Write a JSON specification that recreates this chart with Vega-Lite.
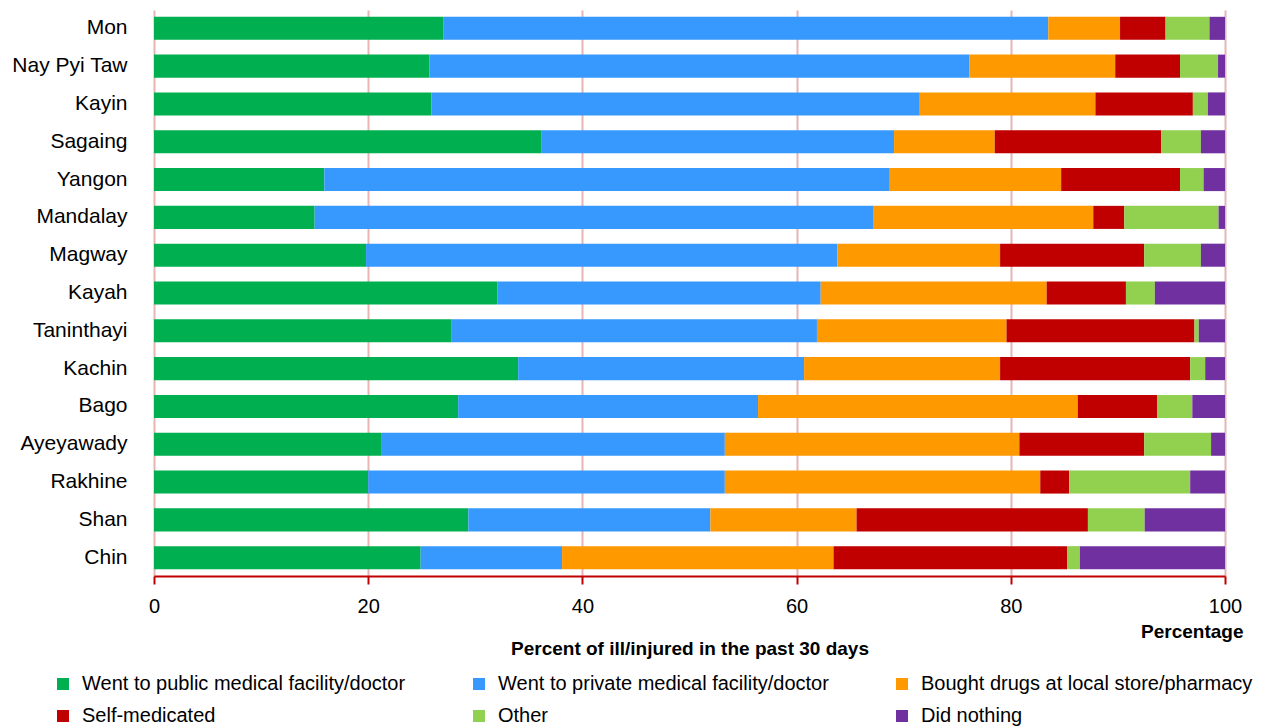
{
  "$schema": "https://vega.github.io/schema/vega-lite/v6.json",
  "width": 1071,
  "height": 566,
  "autosize": {"type": "none"},
  "padding": {"left": 154, "top": 10, "right": 40, "bottom": 151},
  "background": "white",
  "config": {"view": {"stroke": null}, "font": "Liberation Sans"},
  "datasets": {
    "responses": [
      {"response": "Went to public medical facility/doctor", "rank": 1},
      {"response": "Went to private medical facility/doctor", "rank": 2},
      {"response": "Bought drugs at local store/pharmacy", "rank": 3},
      {"response": "Self-medicated", "rank": 4},
      {"response": "Other", "rank": 5},
      {"response": "Did nothing", "rank": 6}
    ],
    "d": [
      {"region": "Mon", "response": "Went to public medical facility/doctor", "pct": 27.0},
      {"region": "Mon", "response": "Went to private medical facility/doctor", "pct": 56.5},
      {"region": "Mon", "response": "Bought drugs at local store/pharmacy", "pct": 6.7},
      {"region": "Mon", "response": "Self-medicated", "pct": 4.25},
      {"region": "Mon", "response": "Other", "pct": 4.1},
      {"region": "Mon", "response": "Did nothing", "pct": 1.45},
      {"region": "Nay Pyi Taw", "response": "Went to public medical facility/doctor", "pct": 25.7},
      {"region": "Nay Pyi Taw", "response": "Went to private medical facility/doctor", "pct": 50.45},
      {"region": "Nay Pyi Taw", "response": "Bought drugs at local store/pharmacy", "pct": 13.6},
      {"region": "Nay Pyi Taw", "response": "Self-medicated", "pct": 6.05},
      {"region": "Nay Pyi Taw", "response": "Other", "pct": 3.55},
      {"region": "Nay Pyi Taw", "response": "Did nothing", "pct": 0.65},
      {"region": "Kayin", "response": "Went to public medical facility/doctor", "pct": 25.9},
      {"region": "Kayin", "response": "Went to private medical facility/doctor", "pct": 45.6},
      {"region": "Kayin", "response": "Bought drugs at local store/pharmacy", "pct": 16.4},
      {"region": "Kayin", "response": "Self-medicated", "pct": 9.1},
      {"region": "Kayin", "response": "Other", "pct": 1.4},
      {"region": "Kayin", "response": "Did nothing", "pct": 1.6},
      {"region": "Sagaing", "response": "Went to public medical facility/doctor", "pct": 36.2},
      {"region": "Sagaing", "response": "Went to private medical facility/doctor", "pct": 32.9},
      {"region": "Sagaing", "response": "Bought drugs at local store/pharmacy", "pct": 9.4},
      {"region": "Sagaing", "response": "Self-medicated", "pct": 15.55},
      {"region": "Sagaing", "response": "Other", "pct": 3.7},
      {"region": "Sagaing", "response": "Did nothing", "pct": 2.25},
      {"region": "Yangon", "response": "Went to public medical facility/doctor", "pct": 15.9},
      {"region": "Yangon", "response": "Went to private medical facility/doctor", "pct": 52.8},
      {"region": "Yangon", "response": "Bought drugs at local store/pharmacy", "pct": 16.0},
      {"region": "Yangon", "response": "Self-medicated", "pct": 11.1},
      {"region": "Yangon", "response": "Other", "pct": 2.2},
      {"region": "Yangon", "response": "Did nothing", "pct": 2.0},
      {"region": "Mandalay", "response": "Went to public medical facility/doctor", "pct": 15.0},
      {"region": "Mandalay", "response": "Went to private medical facility/doctor", "pct": 52.2},
      {"region": "Mandalay", "response": "Bought drugs at local store/pharmacy", "pct": 20.5},
      {"region": "Mandalay", "response": "Self-medicated", "pct": 2.9},
      {"region": "Mandalay", "response": "Other", "pct": 8.8},
      {"region": "Mandalay", "response": "Did nothing", "pct": 0.6},
      {"region": "Magway", "response": "Went to public medical facility/doctor", "pct": 19.8},
      {"region": "Magway", "response": "Went to private medical facility/doctor", "pct": 44.0},
      {"region": "Magway", "response": "Bought drugs at local store/pharmacy", "pct": 15.2},
      {"region": "Magway", "response": "Self-medicated", "pct": 13.45},
      {"region": "Magway", "response": "Other", "pct": 5.3},
      {"region": "Magway", "response": "Did nothing", "pct": 2.25},
      {"region": "Kayah", "response": "Went to public medical facility/doctor", "pct": 32.05},
      {"region": "Kayah", "response": "Went to private medical facility/doctor", "pct": 30.2},
      {"region": "Kayah", "response": "Bought drugs at local store/pharmacy", "pct": 21.1},
      {"region": "Kayah", "response": "Self-medicated", "pct": 7.4},
      {"region": "Kayah", "response": "Other", "pct": 2.7},
      {"region": "Kayah", "response": "Did nothing", "pct": 6.55},
      {"region": "Taninthayi", "response": "Went to public medical facility/doctor", "pct": 27.8},
      {"region": "Taninthayi", "response": "Went to private medical facility/doctor", "pct": 34.1},
      {"region": "Taninthayi", "response": "Bought drugs at local store/pharmacy", "pct": 17.7},
      {"region": "Taninthayi", "response": "Self-medicated", "pct": 17.55},
      {"region": "Taninthayi", "response": "Other", "pct": 0.4},
      {"region": "Taninthayi", "response": "Did nothing", "pct": 2.45},
      {"region": "Kachin", "response": "Went to public medical facility/doctor", "pct": 34.0},
      {"region": "Kachin", "response": "Went to private medical facility/doctor", "pct": 26.7},
      {"region": "Kachin", "response": "Bought drugs at local store/pharmacy", "pct": 18.3},
      {"region": "Kachin", "response": "Self-medicated", "pct": 17.75},
      {"region": "Kachin", "response": "Other", "pct": 1.4},
      {"region": "Kachin", "response": "Did nothing", "pct": 1.85},
      {"region": "Bago", "response": "Went to public medical facility/doctor", "pct": 28.4},
      {"region": "Bago", "response": "Went to private medical facility/doctor", "pct": 28.0},
      {"region": "Bago", "response": "Bought drugs at local store/pharmacy", "pct": 29.85},
      {"region": "Bago", "response": "Self-medicated", "pct": 7.4},
      {"region": "Bago", "response": "Other", "pct": 3.3},
      {"region": "Bago", "response": "Did nothing", "pct": 3.05},
      {"region": "Ayeyawady", "response": "Went to public medical facility/doctor", "pct": 21.2},
      {"region": "Ayeyawady", "response": "Went to private medical facility/doctor", "pct": 32.1},
      {"region": "Ayeyawady", "response": "Bought drugs at local store/pharmacy", "pct": 27.5},
      {"region": "Ayeyawady", "response": "Self-medicated", "pct": 11.65},
      {"region": "Ayeyawady", "response": "Other", "pct": 6.25},
      {"region": "Ayeyawady", "response": "Did nothing", "pct": 1.3},
      {"region": "Rakhine", "response": "Went to public medical facility/doctor", "pct": 20.0},
      {"region": "Rakhine", "response": "Went to private medical facility/doctor", "pct": 33.3},
      {"region": "Rakhine", "response": "Bought drugs at local store/pharmacy", "pct": 29.45},
      {"region": "Rakhine", "response": "Self-medicated", "pct": 2.7},
      {"region": "Rakhine", "response": "Other", "pct": 11.3},
      {"region": "Rakhine", "response": "Did nothing", "pct": 3.25},
      {"region": "Shan", "response": "Went to public medical facility/doctor", "pct": 29.35},
      {"region": "Shan", "response": "Went to private medical facility/doctor", "pct": 22.6},
      {"region": "Shan", "response": "Bought drugs at local store/pharmacy", "pct": 13.65},
      {"region": "Shan", "response": "Self-medicated", "pct": 21.6},
      {"region": "Shan", "response": "Other", "pct": 5.3},
      {"region": "Shan", "response": "Did nothing", "pct": 7.5},
      {"region": "Chin", "response": "Went to public medical facility/doctor", "pct": 24.9},
      {"region": "Chin", "response": "Went to private medical facility/doctor", "pct": 13.2},
      {"region": "Chin", "response": "Bought drugs at local store/pharmacy", "pct": 25.35},
      {"region": "Chin", "response": "Self-medicated", "pct": 21.8},
      {"region": "Chin", "response": "Other", "pct": 1.2},
      {"region": "Chin", "response": "Did nothing", "pct": 13.55}
    ]
  },
  "layer": [
    {
      "data": {"name": "d"},
      "transform": [
        {"lookup": "response", "from": {"data": {"name": "responses"}, "key": "response", "fields": ["rank"]}}
      ],
      "mark": {"type": "bar"},
      "encoding": {
        "y": {
          "field": "region",
          "type": "nominal",
          "sort": ["Mon", "Nay Pyi Taw", "Kayin", "Sagaing", "Yangon", "Mandalay", "Magway", "Kayah", "Taninthayi", "Kachin", "Bago", "Ayeyawady", "Rakhine", "Shan", "Chin"],
          "scale": {"paddingInner": 0.39, "paddingOuter": 0.18},
          "axis": {"title": null, "domain": false, "ticks": false, "grid": false, "labelFontSize": 21, "labelColor": "black", "labelPadding": 27}
        },
        "x": {
          "field": "pct",
          "type": "quantitative",
          "stack": "zero",
          "scale": {"domain": [0, 100], "nice": false},
          "axis": {
            "title": "Percent of ill/injured in the past 30 days",
            "values": [0, 20, 40, 60, 80, 100],
            "grid": true,
            "gridColor": "#e8b5b5",
            "gridWidth": 2,
            "domainColor": "#c00000",
            "domainWidth": 2,
            "tickColor": "#c00000",
            "tickWidth": 2,
            "tickSize": 8,
            "labelFontSize": 20,
            "labelColor": "black",
            "labelPadding": 12,
            "labelFlush": false,
            "titleFontSize": 19,
            "titleFontWeight": "bold",
            "titleColor": "black",
            "titleY": 63
          }
        },
        "order": {"field": "rank", "type": "quantitative", "sort": "ascending"},
        "color": {
          "field": "response",
          "type": "nominal",
          "sort": ["Went to public medical facility/doctor", "Went to private medical facility/doctor", "Bought drugs at local store/pharmacy", "Self-medicated", "Other", "Did nothing"],
          "scale": {
            "domain": ["Went to public medical facility/doctor", "Went to private medical facility/doctor", "Bought drugs at local store/pharmacy", "Self-medicated", "Other", "Did nothing"],
            "range": ["#00b050", "#3799fe", "#ff9900", "#c00000", "#92d050", "#7030a0"]
          },
          "legend": {
            "orient": "none",
            "legendX": -101,
            "legendY": 664,
            "direction": "horizontal",
            "columns": 3,
            "title": null,
            "padding": 0,
            "symbolType": "square",
            "symbolSize": 144,
            "symbolStrokeWidth": 0,
            "labelFontSize": 20,
            "labelColor": "black",
            "labelOffset": 9,
            "labelLimit": 500,
            "columnPadding": 63,
            "rowPadding": 12
          }
        }
      }
    },
    {
      "data": {"values": [{}]},
      "mark": {"type": "rule", "opacity": 0},
      "encoding": {
        "x": {
          "datum": 0,
          "type": "quantitative",
          "axis": {
            "orient": "bottom",
            "title": "Percentage",
            "domain": false,
            "ticks": false,
            "labels": false,
            "grid": false,
            "titleFontSize": 19,
            "titleFontWeight": "bold",
            "titleColor": "black",
            "titleAnchor": "end",
            "titleAlign": "right",
            "titleX": 1089,
            "titleY": 46
          }
        }
      }
    }
  ],
  "resolve": {"axis": {"x": "independent"}}
}
